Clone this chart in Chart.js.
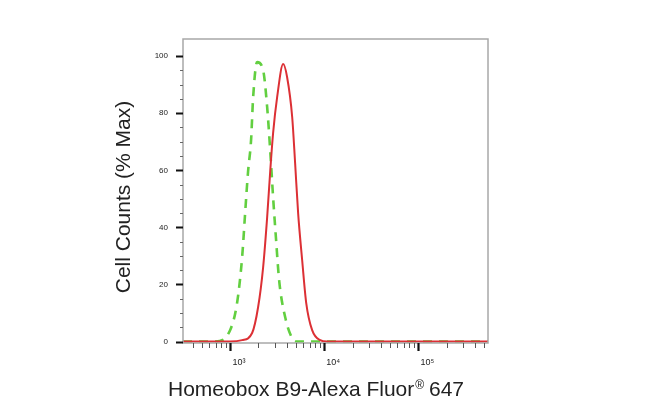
<!DOCTYPE html>
<html>
<head>
<meta charset="utf-8">
<title>Homeobox B9 - flow histogram</title>
<script src="https://cdn.jsdelivr.net/npm/chart.js@4.4.1/dist/chart.umd.min.js"></script>
<style>
  html, body { margin: 0; padding: 0; background: #fff; }
  #wrap { width: 650px; height: 411px; }
</style>
</head>
<body>
<div id="wrap"><canvas id="histo" width="650" height="411"></canvas></div>
<script>
// ---- data (x = fluorescence, y = % of max) ----
var isotypeX = [316, 692, 1000, 1186, 1343, 1445, 1552, 1671, 1758, 1936, 2244, 2477, 2667, 2864, 3083, 3319, 3846, 4571, 5200, 550000];
var isotypeY = [0, 0, 4, 13.5, 29.6, 45, 59.5, 70.6, 85.6, 97.9, 95.1, 82.1, 67.1, 50.6, 35.5, 21.5, 8.6, 1.2, 0, 0];

var sampleX = [316, 1000, 1343, 1714, 1986, 2244, 2477, 2667, 2864, 3162, 3664, 4036, 4571, 4909, 5284, 5834, 6442, 7447, 9057, 10765, 550000];
var sampleY = [0, 0, 0.5, 3, 12.1, 26, 43.6, 59.5, 73, 85.6, 97.2, 92.6, 78.6, 62.5, 45, 28.5, 13.5, 4, 0.5, 0, 0];

var xMajorTicks = [1000, 10000, 100000];
var xTickLabels = ['10\u00b3', '10\u2074', '10\u2075'];
var yMajorTicks = [0, 20, 40, 60, 80, 100];
var yTickLabels = ['0', '20', '40', '60', '80', '100'];

var xTitle = 'Homeobox B9-Alexa Fluor';
var xTitleMark = '\u00ae';
var xTitleEnd = ' 647';
var yTitle = 'Cell Counts (% Max)';

(function () {
  'use strict';

  var FONT = '"Liberation Sans", Arial, sans-serif';
  var X_MIN = 316, X_MAX = 550000;

  function toPoints(xs, ys) {
    return xs.map(function (x, i) { return { x: x, y: ys[i] }; });
  }

  // log ticks 1..9 x 10^n inside the range, majors flagged
  function buildLogTicks(scale) {
    var out = [];
    for (var e = 2; e <= 5; e++) {
      for (var m = 1; m <= 9; m++) {
        var v = m * Math.pow(10, e);
        if (v < X_MIN || v > X_MAX) continue;
        out.push({ value: v, major: xMajorTicks.indexOf(v) >= 0 });
      }
    }
    scale.ticks = out;
  }

  function buildLinTicks(scale) {
    var out = [];
    for (var v = 0; v <= 100; v += 5) out.push({ value: v, major: yMajorTicks.indexOf(v) >= 0 });
    scale.ticks = out;
  }

  // frame + tick marks + axis titles
  var decorPlugin = {
    id: 'decor',
    afterDraw: function (chart) {
      var ctx = chart.ctx;
      var a = chart.chartArea;
      var xs = chart.scales.x, ys = chart.scales.y;
      ctx.save();

      ctx.strokeStyle = '#a8a8a8';
      ctx.lineWidth = 1.5;
      ctx.strokeRect(a.left, a.top, a.right - a.left, a.bottom - a.top);

      xs.ticks.forEach(function (t) {
        var px = Math.round(xs.getPixelForValue(t.value)) + 0.5;
        ctx.beginPath();
        ctx.strokeStyle = t.major ? '#111' : '#555';
        ctx.lineWidth = t.major ? 2.2 : 1;
        ctx.moveTo(px, a.bottom);
        ctx.lineTo(px, a.bottom + (t.major ? 8 : 5));
        ctx.stroke();
      });

      ys.ticks.forEach(function (t) {
        var py = Math.round(ys.getPixelForValue(t.value)) + 0.5;
        ctx.beginPath();
        ctx.strokeStyle = t.major ? '#111' : '#666';
        ctx.lineWidth = t.major ? 2 : 1;
        ctx.moveTo(a.left - (t.major ? 7 : 3), py);
        ctx.lineTo(a.left, py);
        ctx.stroke();
      });

      ctx.fillStyle = '#222';
      ctx.textBaseline = 'alphabetic';

      // x title with small raised (R) mark
      ctx.font = '21px ' + FONT;
      var w1 = ctx.measureText(xTitle).width;
      var w3 = ctx.measureText(xTitleEnd).width;
      ctx.font = '12px ' + FONT;
      var w2 = ctx.measureText(xTitleMark).width;
      var x0 = 316 - (w1 + w2 + w3) / 2;
      ctx.font = '21px ' + FONT;
      ctx.textAlign = 'left';
      ctx.fillText(xTitle, x0, 396);
      ctx.font = '12px ' + FONT;
      ctx.fillText(xTitleMark, x0 + w1 + 1, 389);
      ctx.font = '21px ' + FONT;
      ctx.fillText(xTitleEnd, x0 + w1 + w2, 396);

      // y title
      ctx.translate(130, 197);
      ctx.rotate(-Math.PI / 2);
      ctx.textAlign = 'center';
      ctx.fillText(yTitle, 0, 0);

      ctx.restore();
    }
  };

  var ctx = document.getElementById('histo');

  new Chart(ctx, {
    type: 'line',
    data: {
      datasets: [{
        label: 'Isotype',
        data: toPoints(isotypeX, isotypeY),
        borderColor: '#62cf40',
        borderWidth: 2.6,
        borderDash: [9, 7],
        pointRadius: 0,
        fill: false,
        cubicInterpolationMode: 'monotone',
        order: 2
      }, {
        label: 'Homeobox B9',
        data: toPoints(sampleX, sampleY),
        borderColor: '#dc3035',
        borderWidth: 2,
        pointRadius: 0,
        fill: false,
        cubicInterpolationMode: 'monotone',
        order: 1
      }]
    },
    options: {
      responsive: false,
      animation: false,
      devicePixelRatio: 1,
      layout: { padding: { top: 39, right: 162, left: 0, bottom: 0 } },
      plugins: {
        legend: { display: false },
        tooltip: { enabled: false }
      },
      scales: {
        x: {
          type: 'logarithmic',
          min: X_MIN,
          max: X_MAX,
          grid: { display: false, drawTicks: false },
          border: { display: false },
          afterBuildTicks: buildLogTicks,
          afterFit: function (s) { s.height = 68; },
          ticks: {
            autoSkip: false,
            maxRotation: 0,
            padding: 14,
            labelOffset: 9,
            color: '#222',
            font: { family: FONT, size: 9 },
            callback: function (v) {
              var i = xMajorTicks.indexOf(v);
              return i >= 0 ? xTickLabels[i] : '';
            }
          }
        },
        y: {
          type: 'linear',
          min: -0.5,
          max: 106,
          grid: { display: false, drawTicks: false },
          border: { display: false },
          afterBuildTicks: buildLinTicks,
          afterFit: function (s) { s.width = 183; },
          ticks: {
            autoSkip: false,
            padding: 15,
            color: '#222',
            font: { family: FONT, size: 8 },
            callback: function (v) {
              var i = yMajorTicks.indexOf(v);
              return i >= 0 ? yTickLabels[i] : '';
            }
          }
        }
      }
    },
    plugins: [decorPlugin]
  });
})();
</script>
</body>
</html>
